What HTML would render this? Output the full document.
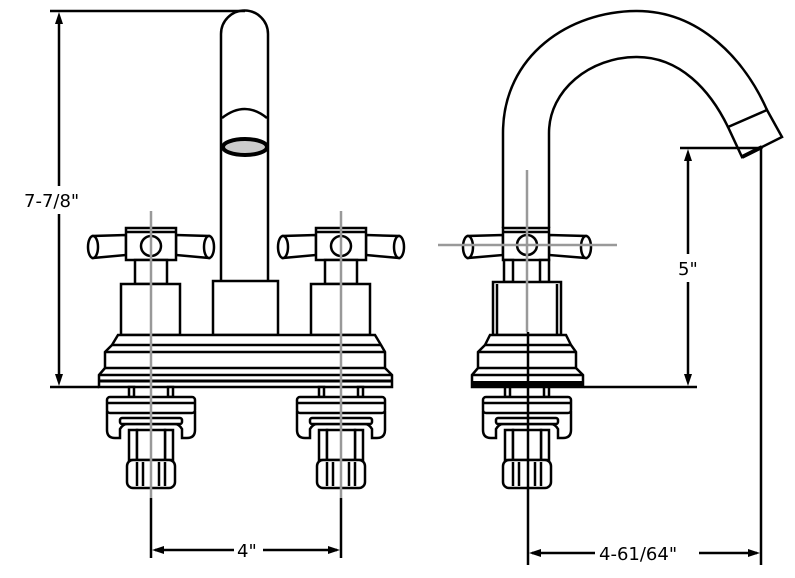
<!DOCTYPE html>
<html><head><meta charset="utf-8"><style>
html,body{margin:0;padding:0;background:#fff;width:795px;height:578px;overflow:hidden}
svg{display:block}
text{font-family:"DejaVu Sans","Liberation Sans",sans-serif;font-size:18px;fill:#000}
</style></head><body>
<svg width="795" height="578" viewBox="0 0 795 578" xmlns="http://www.w3.org/2000/svg">
<defs>
<g id="under" fill="#fff" stroke="#000" stroke-width="2.5">
  <rect x="-22" y="387" width="5" height="10"/>
  <rect x="17" y="387" width="5" height="10"/>
  <path d="M-44,412 L-44,430 Q-44,438 -36,438 L-31,438 L-31,429 Q-28,424 -24,424 L24,424 Q28,424 31,429 L31,438 L36,438 Q44,438 44,430 L44,412 Z"/>
  <rect x="-31" y="418" width="62" height="6" rx="2"/>
  <rect x="-44" y="397" width="88" height="16" rx="3"/>
  <line x1="-44" y1="403" x2="44" y2="403"/>
  <rect x="-22" y="430" width="8" height="30"/>
  <rect x="14" y="430" width="8" height="30"/>
  <rect x="-14" y="430" width="28" height="30"/>
  <rect x="-24" y="460" width="48" height="28" rx="6"/>
  <line x1="-14" y1="462" x2="-14" y2="486"/><line x1="-8" y1="462" x2="-8" y2="486"/>
  <line x1="8" y1="462" x2="8" y2="486"/><line x1="14" y1="462" x2="14" y2="486"/>
</g>
<g id="handle" fill="#fff" stroke="#000" stroke-width="2.5">
  <path d="M-25,235 L-58,236 L-58,258 L-25,255 Z"/>
  <ellipse cx="-58" cy="247" rx="5" ry="11"/>
  <path d="M25,235 L58,236 L58,258 L25,255 Z"/>
  <ellipse cx="58" cy="247" rx="5" ry="11"/>
  <rect x="-25" y="228" width="50" height="32"/>
  <line x1="-25" y1="232" x2="25" y2="232"/>
  <circle cx="0" cy="246" r="10"/>
  <rect x="-16" y="260" width="32" height="24"/>
  <rect x="-30" y="284" width="59" height="51"/>
</g>
</defs>

<!-- LEFT VIEW -->
<path d="M221,282 L221,34 A23.5,23.5 0 0 1 268,34 L268,282" fill="none" stroke="#000" stroke-width="2.5"/>
<path d="M222,118 Q245,100 267,118" fill="none" stroke="#000" stroke-width="2.5"/>
<ellipse cx="245" cy="147" rx="22" ry="8" fill="#ccc" stroke="#000" stroke-width="4"/>
<rect x="213" y="281" width="65" height="54" fill="#fff" stroke="#000" stroke-width="2.5"/>
<use href="#handle" transform="translate(151,0)"/>
<use href="#handle" transform="translate(341,0)"/>
<g fill="#fff" stroke="#000" stroke-width="2.5">
  <path d="M99,387 L99,375 L105,368 L105,352 L112,345 L118,335 L375,335 L381,345 L385,352 L385,368 L392,375 L392,387 Z"/>
  <line x1="112" y1="345" x2="381" y2="345"/>
  <line x1="105" y1="352" x2="385" y2="352"/>
  <line x1="105" y1="368" x2="385" y2="368"/>
  <line x1="99" y1="375" x2="392" y2="375"/>
  <line x1="99" y1="381" x2="392" y2="381" stroke-width="3"/>
</g>
<use href="#under" transform="translate(151,0)"/>
<use href="#under" transform="translate(341,0)"/>
<line x1="151" y1="211" x2="151" y2="498" stroke="#999" stroke-width="2.5"/>
<line x1="341" y1="211" x2="341" y2="498" stroke="#999" stroke-width="2.5"/>

<!-- left dimensions -->
<line x1="50" y1="11" x2="245" y2="11" stroke="#000" stroke-width="2.5"/>
<line x1="50" y1="387" x2="99" y2="387" stroke="#000" stroke-width="2.5"/>
<line x1="59" y1="20" x2="59" y2="186" stroke="#000" stroke-width="2.5"/>
<line x1="59" y1="214" x2="59" y2="378" stroke="#000" stroke-width="2.5"/>
<path d="M59,12 L55,24 L63,24 Z M59,386 L55,374 L63,374 Z"/>
<text x="24" y="207">7-7/8"</text>

<!-- RIGHT VIEW -->
<path d="M503,228 L503,133 C503,55 570,11 637,11 C700,11 745,60 767,110" fill="none" stroke="#000" stroke-width="2.5"/>
<path d="M549,228 L549,133 C549,90 590,57 637,57 C680,57 710,90 728,127" fill="none" stroke="#000" stroke-width="2.5"/>
<path d="M728,127 L767,110 L782,137 L742,157 Z" fill="#fff" stroke="#000" stroke-width="2.5"/>
<line x1="742" y1="157" x2="762" y2="147" stroke="#000" stroke-width="4"/>
<g fill="#fff" stroke="#000" stroke-width="2.5">
  <path d="M503,235 L468,236 L468,258 L503,255 Z"/>
  <ellipse cx="468" cy="247" rx="5" ry="11"/>
  <path d="M549,235 L586,236 L586,258 L549,255 Z"/>
  <ellipse cx="586" cy="247" rx="5" ry="11"/>
  <rect x="503" y="228" width="46" height="32"/>
  <line x1="503" y1="232" x2="549" y2="232"/>
  <circle cx="527" cy="245" r="10"/>
  <rect x="504" y="260" width="9" height="22"/>
  <rect x="540" y="260" width="9" height="22"/>
  <rect x="493" y="282" width="68" height="53"/>
  <line x1="497" y1="284" x2="497" y2="335"/><line x1="557" y1="284" x2="557" y2="335"/>
  <path d="M472,387 L472,375 L478,368 L478,352 L485,345 L490,335 L566,335 L571,345 L576,352 L576,368 L583,375 L583,387 Z"/>
  <line x1="485" y1="345" x2="571" y2="345"/>
  <line x1="478" y1="352" x2="576" y2="352"/>
  <line x1="478" y1="368" x2="576" y2="368"/>
  <line x1="472" y1="375" x2="583" y2="375"/>
</g>
<rect x="472" y="381" width="112" height="6" fill="#000"/>
<use href="#under" transform="translate(527,0)"/>
<line x1="438" y1="245" x2="617" y2="245" stroke="#999" stroke-width="2.5"/>
<line x1="527" y1="170" x2="527" y2="332" stroke="#999" stroke-width="2.5"/>
<line x1="528" y1="332" x2="528" y2="565" stroke="#000" stroke-width="2.5"/>

<!-- right dimensions -->
<line x1="680" y1="148" x2="762" y2="148" stroke="#000" stroke-width="2.5"/>
<line x1="584" y1="387" x2="697" y2="387" stroke="#000" stroke-width="2.5"/>
<line x1="688" y1="156" x2="688" y2="254" stroke="#000" stroke-width="2.5"/>
<line x1="688" y1="282" x2="688" y2="380" stroke="#000" stroke-width="2.5"/>
<path d="M688,149 L684,161 L692,161 Z M688,386 L684,374 L692,374 Z"/>
<text x="678" y="275">5"</text>
<line x1="761" y1="148" x2="761" y2="565" stroke="#000" stroke-width="2.5"/>

<!-- bottom dims -->
<line x1="151" y1="498" x2="151" y2="558" stroke="#000" stroke-width="2.5"/>
<line x1="341" y1="498" x2="341" y2="558" stroke="#000" stroke-width="2.5"/>
<line x1="155" y1="550" x2="234" y2="550" stroke="#000" stroke-width="2.5"/>
<line x1="263" y1="550" x2="337" y2="550" stroke="#000" stroke-width="2.5"/>
<path d="M152,550 L164,546 L164,554 Z M340,550 L328,546 L328,554 Z"/>
<text x="237" y="557">4"</text>
<line x1="532" y1="553" x2="595" y2="553" stroke="#000" stroke-width="2.5"/>
<line x1="699" y1="553" x2="757" y2="553" stroke="#000" stroke-width="2.5"/>
<path d="M529,553 L541,549 L541,557 Z M760,553 L748,549 L748,557 Z"/>
<text x="599" y="560">4-61/64"</text>
</svg>
</body></html>
